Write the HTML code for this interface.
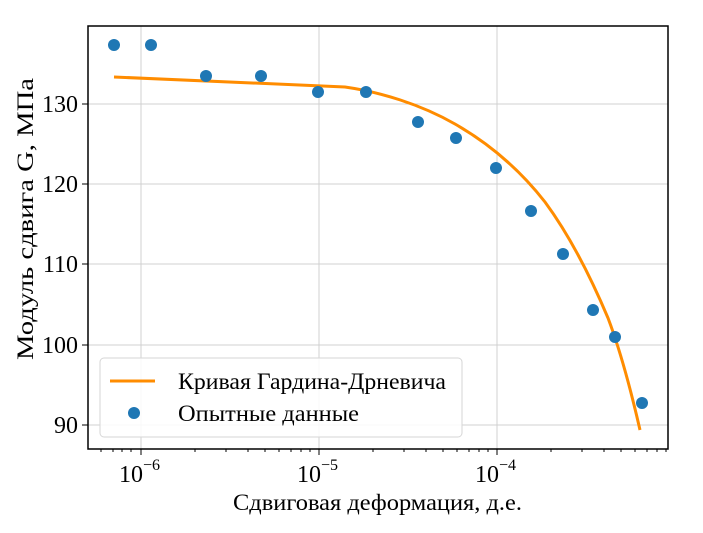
<!DOCTYPE html>
<html><head><meta charset="utf-8"><style>
html,body{margin:0;padding:0;background:#fff;}
svg text{font-family:"Liberation Serif",serif;fill:#000;}
</style></head><body>
<svg width="703" height="528" viewBox="0 0 703 528" xmlns="http://www.w3.org/2000/svg">
<g stroke="#d0d0d0" stroke-width="1">
<line x1="141" y1="26" x2="141" y2="449"/>
<line x1="319" y1="26" x2="319" y2="449"/>
<line x1="497" y1="26" x2="497" y2="449"/>
<line x1="88" y1="104" x2="668" y2="104"/>
<line x1="88" y1="184" x2="668" y2="184"/>
<line x1="88" y1="264" x2="668" y2="264"/>
<line x1="88" y1="345" x2="668" y2="345"/>
<line x1="88" y1="425" x2="668" y2="425"/>
</g>
<path fill="none" stroke="#ff8c00" stroke-width="3" d="M114,77 L345,87 C380,92 420,104 455,124 C490,144 520,170 545,202 C570,236 592,280 608,318 C622,355 632,395 640,430"/>
<g fill="#1f77b4">
<circle cx="114" cy="45" r="6"/><circle cx="151" cy="45" r="6"/><circle cx="206" cy="76" r="6"/><circle cx="261" cy="76" r="6"/><circle cx="318" cy="92" r="6"/><circle cx="366" cy="92" r="6"/><circle cx="418" cy="122" r="6"/><circle cx="456" cy="138" r="6"/><circle cx="496" cy="168" r="6"/><circle cx="531" cy="211" r="6"/><circle cx="563" cy="254" r="6"/><circle cx="593" cy="310" r="6"/><circle cx="615" cy="337" r="6"/><circle cx="642" cy="403" r="6"/>
</g>
<rect x="100" y="358" width="362" height="79" rx="4" fill="#fff" fill-opacity="0.85" stroke="#d6d6d6"/>
<line x1="110" y1="381" x2="155" y2="381" stroke="#ff8c00" stroke-width="3"/>
<circle cx="134" cy="413" r="6" fill="#1f77b4"/>
<text x="178" y="389" font-size="23" textLength="268" lengthAdjust="spacingAndGlyphs">Кривая Гардина-Дрневича</text>
<text x="178" y="421" font-size="23" textLength="181" lengthAdjust="spacingAndGlyphs">Опытные данные</text>
<rect x="88" y="26" width="580" height="423" fill="none" stroke="#000" stroke-width="1.5"/>
<g stroke="#000" stroke-width="1">
<line x1="141" y1="449" x2="141" y2="455"/><line x1="319" y1="449" x2="319" y2="455"/><line x1="497" y1="449" x2="497" y2="455"/>
<line x1="82" y1="104" x2="88" y2="104"/><line x1="82" y1="184" x2="88" y2="184"/><line x1="82" y1="264" x2="88" y2="264"/><line x1="82" y1="345" x2="88" y2="345"/><line x1="82" y1="425" x2="88" y2="425"/>
<line x1="101" y1="449" x2="101" y2="452"/><line x1="113" y1="449" x2="113" y2="452"/><line x1="122" y1="449" x2="122" y2="452"/><line x1="131" y1="449" x2="131" y2="452"/>
<line x1="195" y1="449" x2="195" y2="452"/><line x1="226" y1="449" x2="226" y2="452"/><line x1="248" y1="449" x2="248" y2="452"/><line x1="265" y1="449" x2="265" y2="452"/><line x1="279" y1="449" x2="279" y2="452"/><line x1="291" y1="449" x2="291" y2="452"/><line x1="301" y1="449" x2="301" y2="452"/><line x1="310" y1="449" x2="310" y2="452"/>
<line x1="373" y1="449" x2="373" y2="452"/><line x1="404" y1="449" x2="404" y2="452"/><line x1="426" y1="449" x2="426" y2="452"/><line x1="443" y1="449" x2="443" y2="452"/><line x1="457" y1="449" x2="457" y2="452"/><line x1="469" y1="449" x2="469" y2="452"/><line x1="479" y1="449" x2="479" y2="452"/><line x1="488" y1="449" x2="488" y2="452"/>
<line x1="551" y1="449" x2="551" y2="452"/><line x1="582" y1="449" x2="582" y2="452"/><line x1="604" y1="449" x2="604" y2="452"/><line x1="621" y1="449" x2="621" y2="452"/><line x1="635" y1="449" x2="635" y2="452"/><line x1="647" y1="449" x2="647" y2="452"/><line x1="657" y1="449" x2="657" y2="452"/><line x1="666" y1="449" x2="666" y2="452"/>
</g>
<g font-size="24" text-anchor="end">
<text x="78" y="112">130</text><text x="78" y="192">120</text><text x="78" y="272">110</text><text x="78" y="353">100</text><text x="78" y="433">90</text>
</g>
<g font-size="24">
<text x="119" y="482">10<tspan font-size="16" dy="-12">−6</tspan></text>
<text x="297" y="482">10<tspan font-size="16" dy="-12">−5</tspan></text>
<text x="475" y="482">10<tspan font-size="16" dy="-12">−4</tspan></text>
</g>
<text x="233" y="510" font-size="23" textLength="289" lengthAdjust="spacingAndGlyphs">Сдвиговая деформация, д.е.</text>
<text transform="translate(33,360) rotate(-90)" font-size="23" textLength="282" lengthAdjust="spacingAndGlyphs">Модуль сдвига G,  МПа</text>
</svg>
</body></html>
